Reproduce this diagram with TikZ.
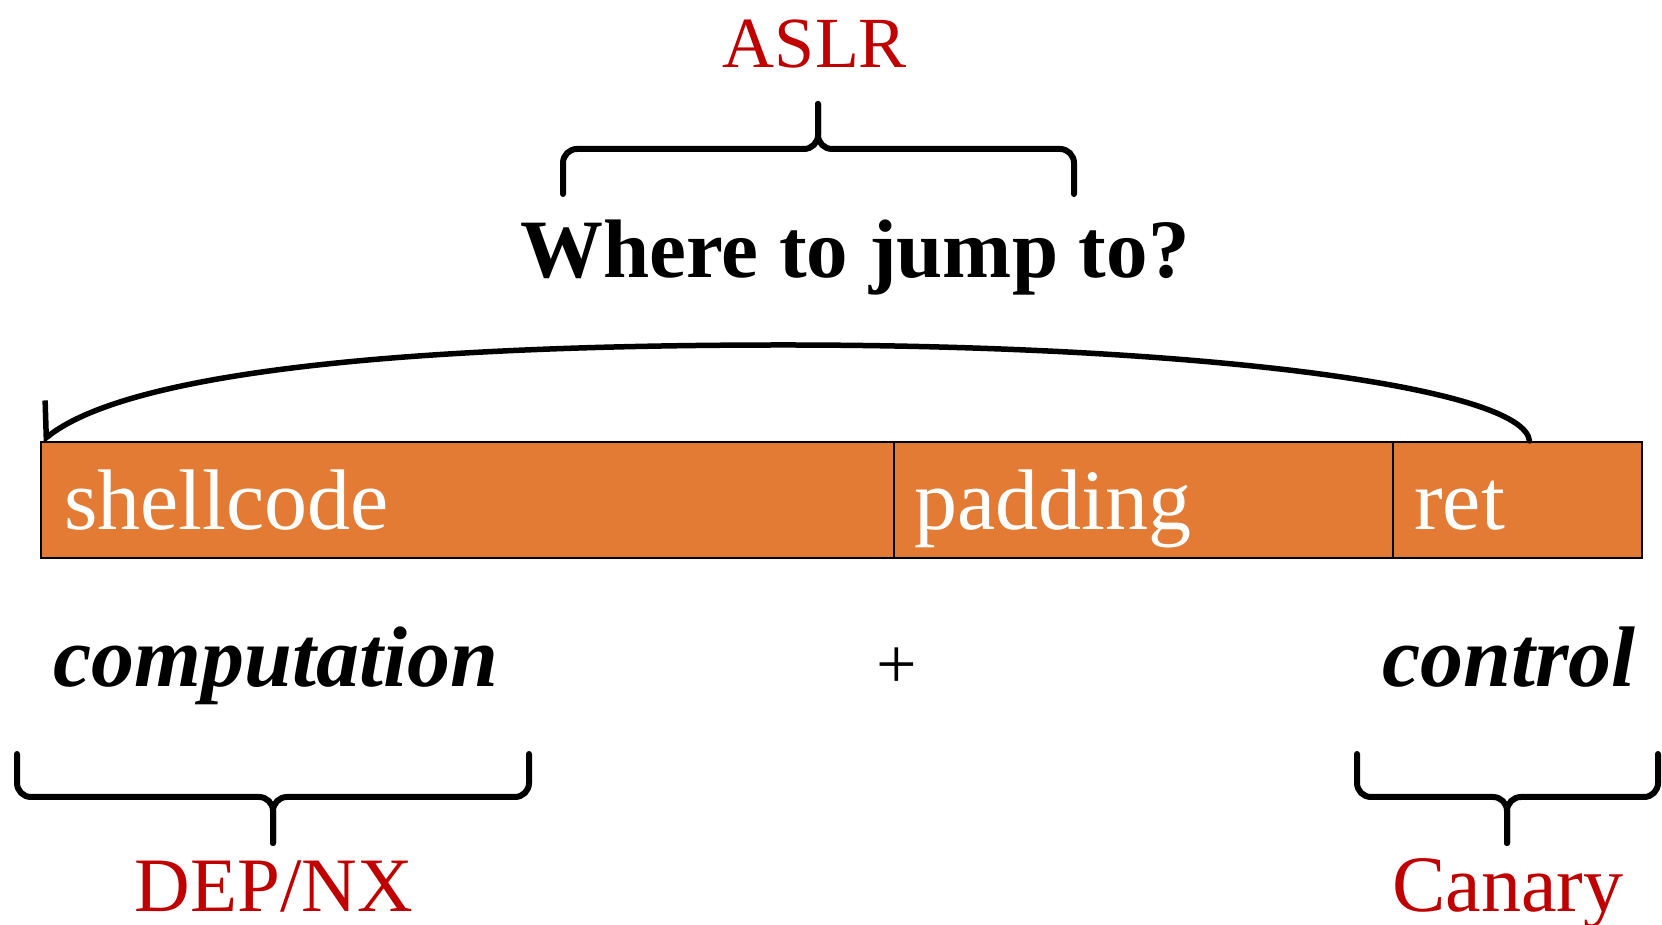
\documentclass[tikz,border=0pt]{standalone}
\usepackage{fontspec}
\setmainfont{Liberation Serif}
\usetikzlibrary{arrows.meta}

\definecolor{bufferorange}{HTML}{E37B34}
\definecolor{defensered}{HTML}{C00000}

\tikzset{
  cell/.style={draw=black, line width=2pt, fill=bufferorange, anchor=south west, inner sep=0pt, minimum height=116pt},
  celltext/.style={text=white, inner sep=0pt, anchor=base west, font=\fontsize{86}{90}\selectfont},
  bigtext/.style={inner sep=0pt, anchor=base, font=\fontsize{86}{90}\selectfont\bfseries\itshape},
  defense/.style={text=defensered, inner sep=0pt, anchor=base},
  bracepath/.style={line width=6pt, rounded corners=14pt, line cap=round}
}

\begin{document}
\begin{tikzpicture}[x=1pt, y=1pt]
  \useasboundingbox (0,0) rectangle (1662,925);

  % the buffer
  \node[cell, minimum width=853pt] (shellcode) at (40,366) {};
  \node[cell, minimum width=499pt] (padding) at (893,366) {};
  \node[cell, minimum width=249pt] (ret) at (1392,366) {};
  \node[celltext] (shelltext) at (64,395) {shellcode};
  \node[celltext] (padtext) at (914,395) {padding};
  \node[celltext] (rettext) at (1414,395) {ret};

  % ret points back to the start
  \draw[line width=5.5pt, line cap=round, -{Straight Barb[harpoon, swap, length=22pt, width=60pt, line width=5.5pt]}]
    ([xshift=12pt]ret.north) .. controls (1524,538) and (1200,580) .. (784,580)
    .. controls (350,580) and (120,545) .. ([xshift=2pt]shellcode.north west);

  % top
  \node[bigtext, font=\fontsize{83}{90}\selectfont\bfseries] (where) at (855,647) {Where to jump to?};
  \draw[bracepath] (563,731) -- (563,776) -- (818,776) -- (818,821);
  \draw[bracepath] (1074,731) -- (1074,776) -- (818,776) -- (818,821);
  \node[defense, font=\fontsize{72}{80}\selectfont] (aslr) at (815,857) {ASLR};

  % bottom
  \node[bigtext] (computation) at (276,238) {computation};
  \node[inner sep=0pt, font=\fontsize{72}{80}\selectfont] (plus) at (897,257) {+};
  \node[bigtext, anchor=base east] (control) at (1636,238) {control};

  \draw[bracepath] (17,171) -- (17,128) -- (273,128) -- (273,82);
  \draw[bracepath] (529,171) -- (529,128) -- (273,128) -- (273,82);
  \node[defense, font=\fontsize{77}{80}\selectfont] (depnx) at (274,13) {DEP/NX};

  \draw[bracepath] (1357,171) -- (1357,128) -- (1507,128) -- (1507,82);
  \draw[bracepath] (1658,171) -- (1658,128) -- (1507,128) -- (1507,82);
  \node[defense, font=\fontsize{80}{80}\selectfont] (canary) at (1508,13) {Canary};
\end{tikzpicture}
\end{document}
